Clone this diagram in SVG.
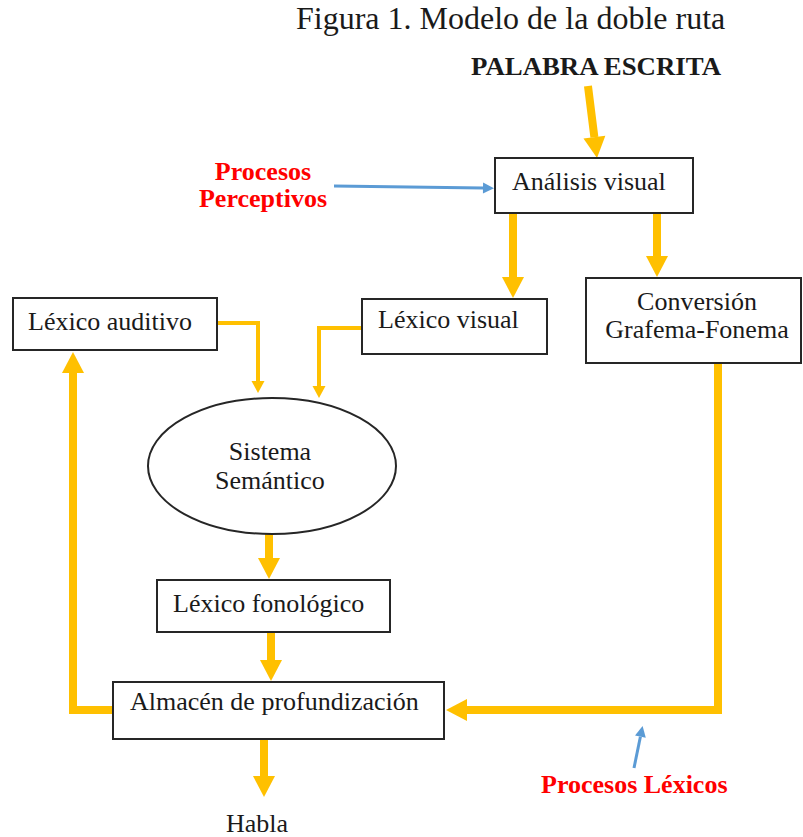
<svg xmlns="http://www.w3.org/2000/svg" width="803" height="837" viewBox="0 0 803 837">
<style>
text{font-family:"Liberation Serif","Times New Roman",serif;font-size:26px;fill:#1a1a1a}
.title{font-size:32px}
.bold{font-weight:bold}
.red{fill:#ff0000;font-weight:bold}
.box{fill:#ffffff;stroke:#262626;stroke-width:2}
.thick{fill:none;stroke:#ffc000;stroke-width:8;marker-end:url(#big)}
.thin{fill:none;stroke:#ffc000;stroke-width:4;marker-end:url(#small)}
.blue{fill:none;stroke:#5b9bd5;stroke-width:3;marker-end:url(#bluehead)}
</style>
<defs>
<marker id="big" markerUnits="userSpaceOnUse" markerWidth="22" markerHeight="24" viewBox="0 -12 22 24" refX="0" refY="0" orient="auto" overflow="visible">
<path d="M0,-11 L21,0 L0,11 z" fill="#ffc000"/>
</marker>
<marker id="small" markerUnits="userSpaceOnUse" markerWidth="13" markerHeight="14" viewBox="0 -7 13 14" refX="0" refY="0" orient="auto" overflow="visible">
<path d="M0,-6.5 L12,0 L0,6.5 z" fill="#ffc000"/>
</marker>
<marker id="bluehead" markerUnits="userSpaceOnUse" markerWidth="12" markerHeight="12" viewBox="0 -6 12 12" refX="0" refY="0" orient="auto" overflow="visible">
<path d="M0,-5.5 L11,0 L0,5.5 z" fill="#5b9bd5"/>
</marker>
</defs>

<text class="title" x="296" y="29">Figura 1. Modelo de la doble ruta</text>

<g id="connectors">
<path class="thick" d="M588,86 L594.4,137.2"/>
<path class="thick" d="M513,213 V277"/>
<path class="thick" d="M657,213 V256"/>
<path class="thin" d="M217,323 H258 V381"/>
<path class="thin" d="M362,328 H319 V386"/>
<path class="thick" d="M269,534 V558"/>
<path class="thick" d="M271,632 V660"/>
<path class="thick" d="M264,739 V776"/>
<path class="thick" d="M113,710 H73 V373"/>
<path class="thick" d="M718,363 V710 H467"/>
<path class="blue" d="M334,186 L483,188"/>
<path class="blue" d="M634,768 L640.4,736.7"/>
</g>

<g id="palabra"><text class="bold" x="471" y="75" textLength="250" lengthAdjust="spacingAndGlyphs">PALABRA ESCRITA</text></g>

<g id="procesos-perceptivos">
<text class="red" x="263" y="180" text-anchor="middle">Procesos</text>
<text class="red" x="263" y="207" text-anchor="middle">Perceptivos</text>
</g>

<g id="analisis">
<rect class="box" x="495" y="158" width="198" height="55"/>
<text x="512" y="190">Análisis visual</text>
</g>

<g id="lexico-visual">
<rect class="box" x="362" y="299" width="185" height="55"/>
<text x="378" y="328">Léxico visual</text>
</g>

<g id="conversion">
<rect class="box" x="586" y="278" width="215" height="85"/>
<text x="697" y="310" text-anchor="middle">Conversión</text>
<text x="697" y="338" text-anchor="middle">Grafema-Fonema</text>
</g>

<g id="lexico-auditivo">
<rect class="box" x="13" y="298" width="204" height="52"/>
<text x="28" y="330">Léxico auditivo</text>
</g>

<g id="sistema">
<ellipse class="box" cx="272" cy="466" rx="124" ry="68"/>
<text x="270" y="460" text-anchor="middle">Sistema</text>
<text x="270" y="489" text-anchor="middle">Semántico</text>
</g>

<g id="lexico-fonologico">
<rect class="box" x="157" y="580" width="233" height="52"/>
<text x="173" y="612">Léxico fonológico</text>
</g>

<g id="almacen">
<rect class="box" x="113" y="682" width="331" height="57"/>
<text x="130" y="710">Almacén de profundización</text>
</g>

<g id="habla"><text x="226" y="832">Habla</text></g>

<g id="procesos-lexicos"><text class="red" x="541" y="793">Procesos Léxicos</text></g>
</svg>
